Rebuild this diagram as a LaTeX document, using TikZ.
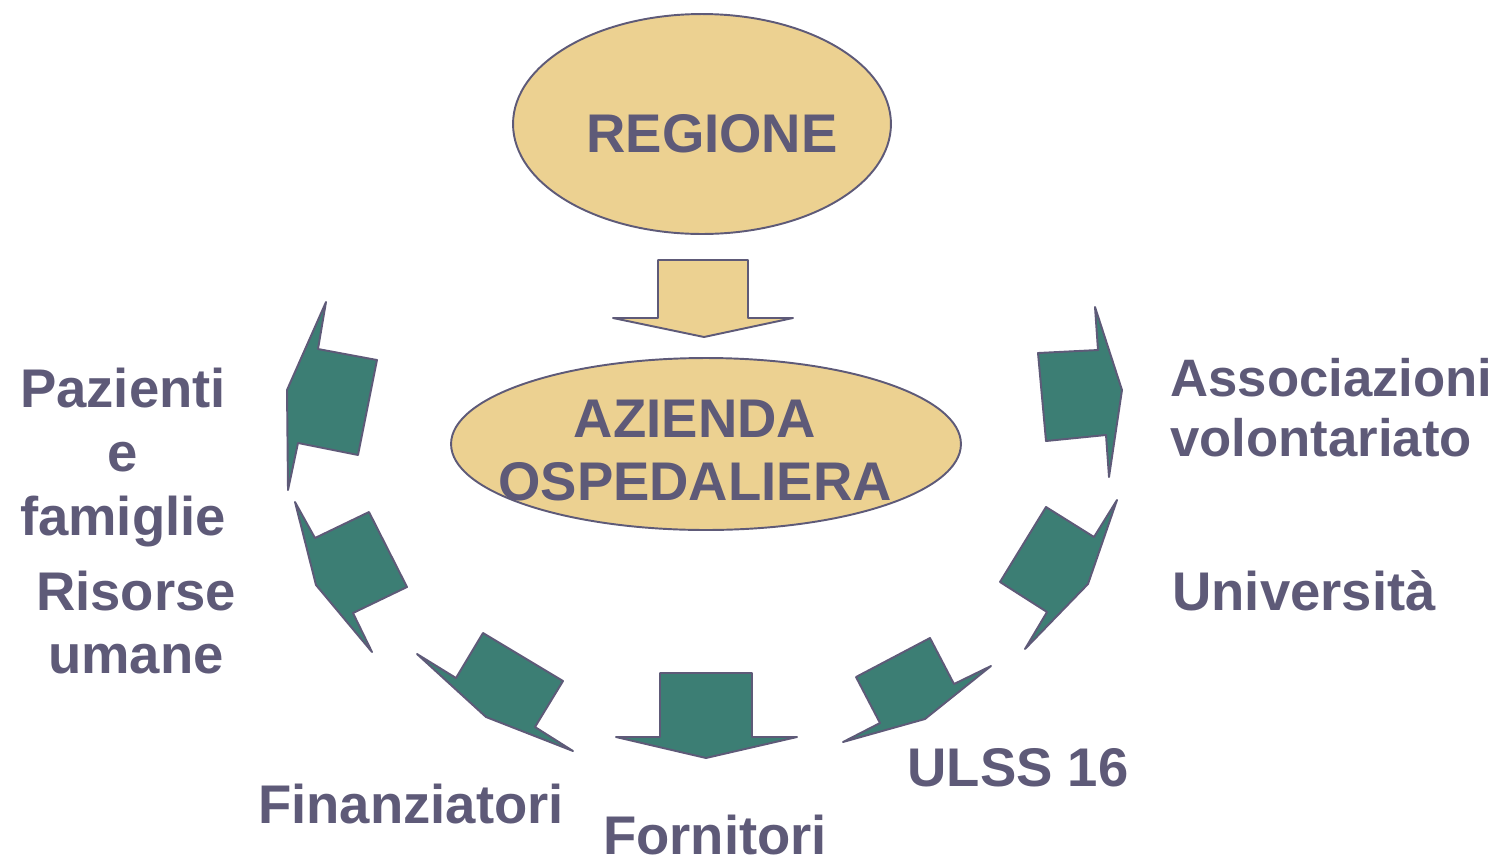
\documentclass[tikz,border=0pt]{standalone}
\usepackage{fontspec}
\setmainfont{Liberation Sans}
\usetikzlibrary{shapes.geometric}
\definecolor{inkgray}{HTML}{5E5A78}
\definecolor{sandfill}{HTML}{ECD191}
\definecolor{tealfill}{HTML}{3C7E74}

\begin{document}
\begin{tikzpicture}[x=0.02cm, y=-0.02cm, line join=round,
txt/.style={text=inkgray, font=\fontsize{31}{#1}\selectfont\bfseries, inner sep=0pt, align=center, anchor=base},
txt/.default=36,
blob/.style={ellipse, draw=inkgray, fill=sandfill, line width=1.1pt, inner sep=0pt},
yblock/.style={draw=inkgray, fill=sandfill, line width=1.1pt},
gblock/.style={draw=inkgray, fill=tealfill, line width=1.1pt}]
\useasboundingbox (0,0) rectangle (1502,860);

% the two ellipses
\node[blob, minimum width=7.56cm, minimum height=4.4cm] (regione) at (702,124) {};
\node[blob, minimum width=10.2cm, minimum height=3.44cm] (azienda) at (706,444) {};
\node[txt] (regionetxt) at (712,152) {REGIONE};
\node[txt=35.8] (aziendatxt) at (695,500) {AZIENDA\\OSPEDALIERA};

% arrow from region to hospital
\draw[yblock] (658,260) -- (748,260) -- (748,318) -- (793,318) -- (704,337) -- (613,318) -- (658,318) -- cycle;

% ring of arrows
\draw[gblock] (326,302) -- (318,349) -- (377,360) -- (358,455) -- (298,443) -- (288,490) -- (287,390) -- cycle;
\draw[gblock] (295,502) -- (315,538) -- (369,512) -- (407,587) -- (353,613) -- (372,652) -- (316,585) -- cycle;
\draw[gblock] (417,654) -- (456,678) -- (483,633) -- (563,681) -- (535,727) -- (573,751) -- (486,717) -- cycle;
\draw[gblock] (660,673) -- (752,673) -- (752,737) -- (797,737) -- (706,758) -- (616,737) -- (660,737) -- cycle;
\draw[gblock] (991,666) -- (954,684) -- (930,638) -- (856,677) -- (880,723) -- (843,742) -- (925,719) -- cycle;
\draw[gblock] (1117,500) -- (1094,537) -- (1046,507) -- (1000,582) -- (1047,612) -- (1025,649) -- (1088,584) -- cycle;
\draw[gblock] (1095,307) -- (1098,350) -- (1038,353) -- (1046,441) -- (1106,435) -- (1109,477) -- (1122,390) -- cycle;

% stakeholders
\node[txt=36.4] (pazienti) at (123,535) {Pazienti\\e\\famiglie};
\node[txt=35.8] (risorse) at (136,673) {Risorse\\umane};
\node[txt] (finanziatori) at (411,823) {Finanziatori};
\node[txt] (fornitori) at (715,854) {Fornitori};
\node[txt] (ulss) at (1018,786) {ULSS 16};
\node[txt, anchor=base west] (universita) at (1172,610) {Università};
\node[txt, font=\fontsize{30}{33.6}\selectfont\bfseries, align=left, anchor=base west] (associazioni) at (1170,456) {Associazioni\\volontariato};
\end{tikzpicture}
\end{document}
